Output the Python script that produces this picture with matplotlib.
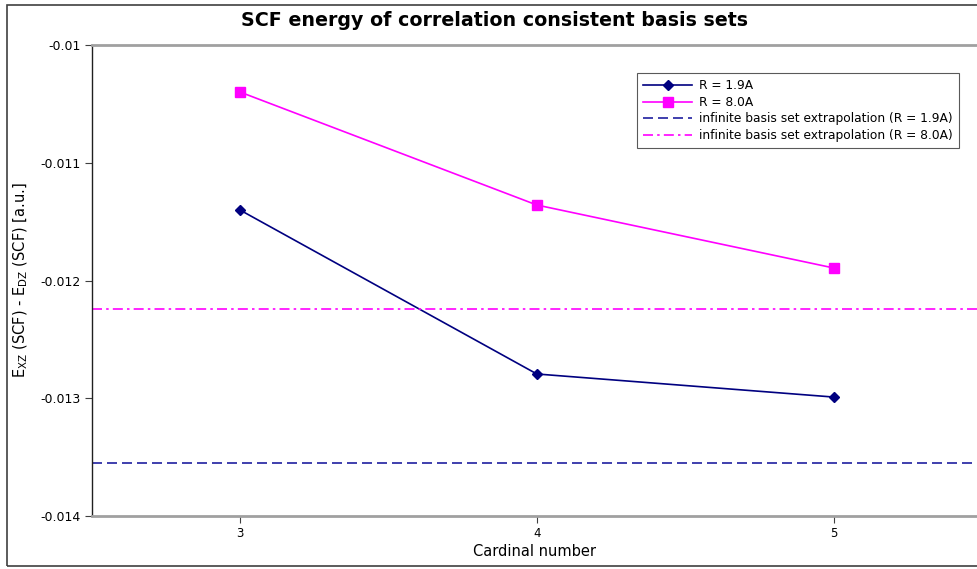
import matplotlib
matplotlib.use('Agg')
import matplotlib.pyplot as plt
from matplotlib.patches import Rectangle

# data
cardinal = [3, 4, 5]
e_r19 = [-0.011401, -0.012794, -0.012990]
e_r80 = [-0.010399, -0.011359, -0.011894]
cbs_r19 = -0.013550
cbs_r80 = -0.012242
yticks = [-0.01, -0.011, -0.012, -0.013, -0.014]
ytick_labels = ['-0.01', '-0.011', '-0.012', '-0.013', '-0.014']

plt.rcParams['font.family'] = 'DejaVu Sans'
plt.rcParams['mathtext.default'] = 'regular'

fig = plt.figure(figsize=(9.77, 5.69), dpi=100)
ax = fig.add_axes([92/977, 1 - 516/569, 1 - 92/977, (516 - 45)/569])

ax.plot(cardinal, e_r19, color='#000080', lw=1.2, marker='D', ms=5, label='R = 1.9A')
ax.plot(cardinal, e_r80, color='#ff00ff', lw=1.2, marker='s', ms=7, label='R = 8.0A')
ax.axhline(cbs_r19, color='#1f1f9f', lw=1.2, ls=(0, (6, 3)),
           label='infinite basis set extrapolation (R = 1.9A)')
ax.axhline(cbs_r80, color='#ff00ff', lw=1.2, ls=(0, (6, 2.5, 1.5, 2.5)),
           label='infinite basis set extrapolation (R = 8.0A)')

ax.set_xlim(2.502, 5.482)
ax.set_ylim(-0.014, -0.01)
ax.set_xticks(cardinal)
ax.set_xticklabels([str(c) for c in cardinal], fontsize=8.5)
ax.set_yticks(yticks)
ax.set_yticklabels(ytick_labels, fontsize=9)

for s in ['top', 'bottom']:
    ax.spines[s].set_color('#a0a0a0')
    ax.spines[s].set_linewidth(2)
ax.spines['right'].set_visible(False)
ax.spines['left'].set_color('#202020')
ax.spines['left'].set_linewidth(1)
ax.tick_params(axis='both', direction='out', length=5, width=0.8, color='#404040', pad=3)

ax.set_xlabel('Cardinal number', fontsize=10.5, labelpad=3)
ax.set_ylabel('E$_{XZ}$ (SCF) - E$_{DZ}$ (SCF) [a.u.]', fontsize=10.5, labelpad=8)

leg = ax.legend(loc='upper left', bbox_to_anchor=((637 - 92)/885, 1 - (73 - 45)/471),
                fontsize=8.8, frameon=True, fancybox=False, borderaxespad=0,
                handlelength=4.0, labelspacing=0.3, borderpad=0.5, handletextpad=0.6)
leg.get_frame().set_edgecolor('#303030')
leg.get_frame().set_linewidth(0.8)

fig.text(495/977, 1 - 20/569, 'SCF energy of correlation consistent basis sets',
         ha='center', va='center', fontsize=13.7, fontweight='bold')

fig.patches.append(Rectangle((7/977, 3/569), 1.0, 561/569, transform=fig.transFigure,
                             fill=False, edgecolor='#404040', lw=1.2, clip_on=False))

fig.savefig('out.png', dpi=100)
